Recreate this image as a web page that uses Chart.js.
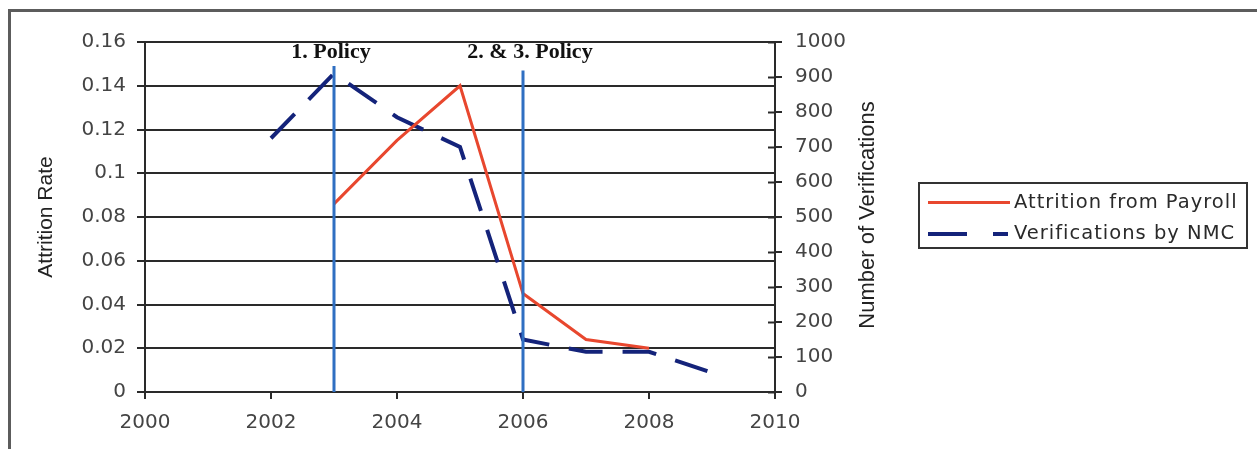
<!DOCTYPE html>
<html>
<head>
<meta charset="utf-8">
<script src="https://cdn.jsdelivr.net/npm/chart.js@4.4.0/dist/chart.umd.min.js"></script>
<style>
  html, body { margin: 0; padding: 0; background: #fff; }
  #wrap { position: relative; width: 1257px; height: 449px; overflow: hidden; }
  #frame { position: absolute; left: 8px; top: 9px; width: 1400px; height: 600px; border-top: 3px solid #5c5c5c; border-left: 3px solid #5c5c5c; }
  #chart { position: absolute; left: 0; top: 0; }
  #legend { position: absolute; left: 918px; top: 182px; width: 326px; height: 63px; border: 2px solid #333; font-family: "DejaVu Sans", sans-serif; font-size: 19.5px; color: #2a2a2a; letter-spacing: 1px; }
  #legend .row { position: absolute; left: 0; height: 24px; width: 100%; }
  #legend .txt { position: absolute; left: 94px; top: 0; line-height: 24px; white-space: nowrap; }
  #legend .seg { position: absolute; top: 11px; }
</style>
</head>
<body>
<div id="wrap">
  <div id="frame"></div>
  <canvas id="chart" width="1257" height="449"></canvas>
  <div id="legend">
    <div class="row" style="top:6px">
      <span class="seg" style="left:8px;width:82px;height:3px;background:#e8472e"></span>
      <span class="txt">Attrition from Payroll</span>
    </div>
    <div class="row" style="top:37px">
      <span class="seg" style="left:8px;width:39px;height:4px;background:#14237a"></span>
      <span class="seg" style="left:73px;width:15px;height:4px;background:#14237a"></span>
      <span class="txt">Verifications by NMC</span>
    </div>
  </div>
</div>
<script>
// values
const attritionYears = [2003, 2004, 2005, 2006, 2007, 2008];
const attritionRate = [0.086, 0.115, 0.140, 0.045, 0.024, 0.020];
const verificationYears = [2002, 2003, 2004, 2005, 2006, 2007, 2008, 2009];
const verifications = [725, 910, 785, 700, 150, 115, 115, 55];
const policyYears = [2003, 2006];
const policyLabels = ['1. Policy', '2. & 3. Policy'];
const policyTops = [0.149, 0.147];

const xTickLabels = ['2000', '2002', '2004', '2006', '2008', '2010'];
const rateTickLabels = ['0', '0.02', '0.04', '0.06', '0.08', '0.1', '0.12', '0.14', '0.16'];
const countTickLabels = ['0', '100', '200', '300', '400', '500', '600', '700', '800', '900', '1000'];

const tickFont = { family: '"DejaVu Sans", sans-serif', size: 20 };
const tickColor = '#444';
const axisColor = '#2a2a2a';

const toPoints = (xs, ys) => xs.map((x, i) => ({ x, y: ys[i] }));

const policyDatasets = policyYears.map((year, i) => ({
  label: policyLabels[i],
  data: [{ x: year, y: 0 }, { x: year, y: policyTops[i] }],
  borderColor: '#2f6fc2',
  borderWidth: 3,
  pointRadius: 0,
  yAxisID: 'y',
}));

const extras = {
  id: 'extras',
  afterDatasetsDraw(chart) {
    const { ctx, scales, chartArea } = chart;
    ctx.save();
    // policy captions
    ctx.fillStyle = '#111';
    ctx.font = 'bold 22px "Liberation Serif", serif';
    ctx.textAlign = 'center';
    ctx.textBaseline = 'alphabetic';
    policyYears.forEach((year, i) => {
      ctx.fillText(policyLabels[i], scales.x.getPixelForValue(year) + (i ? 7 : -3), chartArea.top + 16);
    });
    // inward ticks on the right axis
    const r = scales.y1;
    ctx.strokeStyle = axisColor;
    ctx.lineWidth = 2;
    r.ticks.forEach((t) => {
      const py = Math.round(r.getPixelForValue(t.value)) + 0.5;
      ctx.beginPath();
      ctx.moveTo(chartArea.right - 7, py);
      ctx.lineTo(chartArea.right, py);
      ctx.stroke();
    });
    // right axis title, reading bottom to top
    ctx.fillStyle = '#222';
    ctx.font = '22px "Liberation Sans", Arial, sans-serif';
    ctx.translate(868, (chartArea.top + chartArea.bottom) / 2 - 2);
    ctx.rotate(-Math.PI / 2);
    ctx.textBaseline = 'middle';
    ctx.fillText('Number of Verifications', 0, 0);
    ctx.restore();
  },
};

new Chart(document.getElementById('chart'), {
  type: 'line',
  data: {
    datasets: [
      ...policyDatasets,
      {
        label: 'Attrition from Payroll',
        data: toPoints(attritionYears, attritionRate),
        borderColor: '#e8472e',
        borderWidth: 3,
        pointRadius: 0,
        tension: 0,
        yAxisID: 'y',
      },
      {
        label: 'Verifications by NMC',
        data: toPoints(verificationYears, verifications),
        borderColor: '#14237a',
        borderWidth: 4,
        borderDash: [34, 20],
        pointRadius: 0,
        tension: 0,
        yAxisID: 'y1',
      },
    ],
  },
  options: {
    responsive: false,
    animation: false,
    layout: { padding: { top: 42, left: 34, right: 377, bottom: 0 } },
    plugins: { legend: { display: false }, tooltip: { enabled: false } },
    scales: {
      x: {
        type: 'linear',
        min: 2000,
        max: 2010,
        afterFit: (s) => { s.height = 57; },
        ticks: { stepSize: 2, color: tickColor, font: tickFont, padding: 12, callback: (v, i) => xTickLabels[i] },
        grid: { drawOnChartArea: false, drawTicks: true, tickLength: 7, color: axisColor, lineWidth: 2 },
        border: { display: true, color: axisColor, width: 2 },
      },
      y: {
        position: 'left',
        min: 0,
        max: 0.16,
        afterFit: (s) => { s.width = 111; },
        ticks: { stepSize: 0.02, color: tickColor, font: tickFont, padding: 11, callback: (v, i) => rateTickLabels[i] },
        grid: { color: axisColor, lineWidth: 2, tickLength: 8 },
        border: { display: true, color: axisColor, width: 2 },
        title: { display: true, text: 'Attrition Rate', color: '#222', padding: 0, font: { family: '"Liberation Sans", Arial, sans-serif', size: 21 } },
      },
      y1: {
        position: 'right',
        min: 0,
        max: 1000,
        afterFit: (s) => { s.width = 105; },
        ticks: { stepSize: 100, color: tickColor, font: tickFont, padding: 13, callback: (v, i) => countTickLabels[i] },
        grid: { drawOnChartArea: false, drawTicks: true, tickLength: 7, color: axisColor, lineWidth: 2 },
        border: { display: true, color: axisColor, width: 2 },
      },
    },
  },
  plugins: [extras],
});
</script>
</body>
</html>
